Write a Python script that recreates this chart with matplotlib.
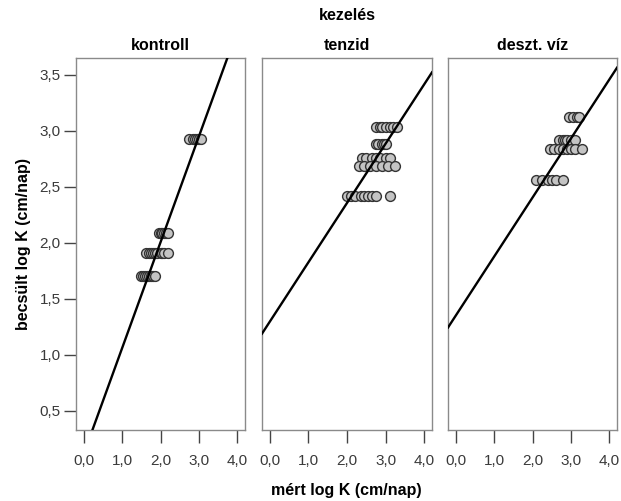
import matplotlib
matplotlib.use("Agg")
import matplotlib.pyplot as plt
import numpy as np

plt.rcParams['font.family'] = ['Liberation Sans', 'DejaVu Sans']

panels = ["kontroll", "tenzid", "deszt. víz"]

# measured (x) / estimated (y) log K values per treatment
kontroll_x = [2.75, 2.85, 2.9, 2.95, 3.0, 3.05,
              1.95, 2.0, 2.05, 2.1, 2.15, 2.2,
              1.62, 1.7, 1.75, 1.8, 1.85, 1.9, 2.0, 2.05, 2.1, 2.2,
              1.5, 1.55, 1.6, 1.65, 1.7, 1.75, 1.8, 1.85]
kontroll_y = [2.93] * 6 + [2.09] * 6 + [1.91] * 10 + [1.70] * 8

tenzid_x = [2.75, 2.85, 2.9, 3.0, 3.1, 3.2, 3.3,
            2.75, 2.8, 2.9, 2.95, 3.0,
            2.4, 2.5, 2.65, 2.75, 2.85, 3.0, 3.1,
            2.3, 2.45, 2.6, 2.75, 2.9, 3.05, 3.25,
            2.0, 2.1, 2.2, 2.35, 2.45, 2.55, 2.65, 2.75, 3.12]
tenzid_y = [3.03] * 7 + [2.88] * 5 + [2.76] * 7 + [2.69] * 7 + [2.42] * 9

viz_x = [2.95, 3.05, 3.15, 3.2,
         2.7, 2.8, 2.85, 2.9, 3.0, 3.1,
         2.45, 2.55, 2.7, 2.8, 2.9, 3.0, 3.1, 3.3,
         2.1, 2.25, 2.4, 2.5, 2.6, 2.8]
viz_y = [3.12] * 4 + [2.92] * 6 + [2.84] * 8 + [2.56] * 6

# fitted lines: intercept, slope
line_intercepts = [0.115, 1.296, 1.35]
line_slopes = [0.945, 0.53, 0.527]

xs = [kontroll_x, tenzid_x, viz_x]
ys = [kontroll_y, tenzid_y, viz_y]

xticks = [0, 1, 2, 3, 4]
xtick_labels = ["0,0", "1,0", "2,0", "3,0", "4,0"]
yticks = [0.5, 1.0, 1.5, 2.0, 2.5, 3.0, 3.5]
ytick_labels = ["0,5", "1,0", "1,5", "2,0", "2,5", "3,0", "3,5"]

W, H = 621, 501
fig = plt.figure(figsize=(W / 100, H / 100), dpi=100)

lefts = [76, 262, 448]
rights = [245, 432, 617]
top, bottom = 58, 430
xlim = (-0.2, 4.2)
ylim = (0.33, 3.65)

for i in range(3):
    ax = fig.add_axes([lefts[i] / W, (H - bottom) / H,
                       (rights[i] - lefts[i]) / W, (bottom - top) / H])
    ax.set_xlim(*xlim)
    ax.set_ylim(*ylim)
    lx = np.array(xlim)
    ax.plot(lx, line_intercepts[i] + line_slopes[i] * lx, color='black', lw=1.7, zorder=3)
    ax.scatter(xs[i], ys[i], s=50, facecolor='#c4c4c4', edgecolor='#333333',
               linewidth=1.0, zorder=2)
    for sp in ax.spines.values():
        sp.set_color('#8a8a8a')
        sp.set_linewidth(1.0)
    ax.set_xticks(xticks)
    ax.set_xticklabels(xtick_labels)
    ax.tick_params(axis='x', direction='out', length=9, width=1.0, color='#444444',
                   labelsize=11, labelcolor='#3a3a3a', pad=8)
    if i == 0:
        ax.set_yticks(yticks)
        ax.set_yticklabels(ytick_labels)
        ax.tick_params(axis='y', direction='out', length=9, width=1.0, color='#444444',
                       labelsize=11, labelcolor='#3a3a3a', pad=2)
    else:
        ax.set_yticks([])
    ax.set_title(panels[i], fontsize=11.5, fontweight='bold', pad=6)

fig.text(347 / W, 1 - 15 / H, "kezelés", ha='center', va='center',
         fontsize=11.5, fontweight='bold')
fig.text(346 / W, 1 - 490 / H, "mért log K (cm/nap)", ha='center', va='center',
         fontsize=11.5, fontweight='bold')
fig.text(24 / W, 1 - 244 / H, "becsült log K (cm/nap)", ha='center', va='center',
         rotation=90, fontsize=11.5, fontweight='bold')

fig.savefig("out.png", dpi=100)
